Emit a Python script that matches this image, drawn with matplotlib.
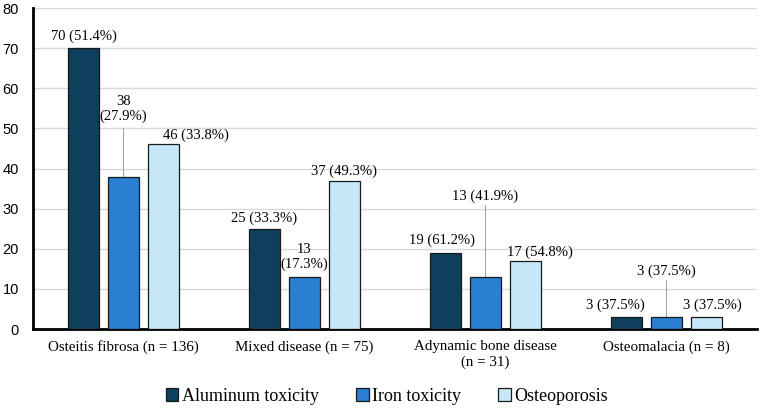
import matplotlib.pyplot as plt
import numpy as np

plt.rcParams['font.family'] = ['Liberation Serif', 'DejaVu Serif']

categories = ["Osteitis fibrosa (n = 136)", "Mixed disease (n = 75)",
              "Adynamic bone disease\n(n = 31)", "Osteomalacia (n = 8)"]
series = ["Aluminum toxicity", "Iron toxicity", "Osteoporosis"]
aluminum = [70, 25, 19, 3]
iron = [38, 13, 13, 3]
osteo = [46, 37, 17, 3]
aluminum_pct = [51.4, 33.3, 61.2, 37.5]
iron_pct = [27.9, 17.3, 41.9, 37.5]
osteo_pct = [33.8, 49.3, 54.8, 37.5]

colors = ["#0e3f5c", "#2a7fd3", "#c6e7f8"]

# label placement (x shift in category units, label centre y, two-line?, leader line)
label_dx = [[0, 0, -0.02, -0.06], [0, 0, 0, 0], [0.18, 0, 0.08, 0.03]]
label_y = [[73.0, 27.7, 22.2, 6.0], [54.8, 17.9, 33.1, 14.5], [48.3, 39.4, 19.2, 6.0]]
two_line = [[False] * 4, [True, True, False, False], [False] * 4]
leader = [[False] * 4, [True, False, True, True], [False] * 4]

fig = plt.figure(figsize=(7.6, 4.11), dpi=100)
ax = fig.add_axes([0.0434, 0.1995, 0.9526, 0.781])

x = np.arange(len(categories))
w = 0.171
step = 0.221
vals = [aluminum, iron, osteo]
pcts = [aluminum_pct, iron_pct, osteo_pct]
for i, (v, p) in enumerate(zip(vals, pcts)):
    xs = x + (i - 1) * step
    ax.bar(xs, v, w, color=colors[i], edgecolor="#1a1a1a", linewidth=0.9,
           label=series[i], zorder=3)
    for j in range(len(categories)):
        sep = "\n" if two_line[i][j] else " "
        txt = f"{v[j]}{sep}({p[j]}%)"
        tx = xs[j] + label_dx[i][j]
        ty = label_y[i][j]
        ax.text(tx, ty, txt, ha="center", va="center", fontsize=10.5,
                linespacing=1.15, zorder=4)
        if leader[i][j]:
            top = ty - (4.7 if two_line[i][j] else 2.3)
            ax.plot([xs[j], xs[j]], [top, v[j]], color="#a6a6a6", lw=0.8, zorder=2)

ax.set_xlim(-0.5, 3.5)
ax.set_ylim(0, 80)
ax.set_yticks(range(0, 81, 10))
ax.set_xticks(x)
ax.set_xticklabels(categories, fontsize=10.8, linespacing=1.2)
for t in ax.get_yticklabels():
    t.set_family(['Liberation Sans', 'DejaVu Sans'])
    t.set_fontsize(10.5)
ax.tick_params(axis="both", length=0)
ax.tick_params(axis="x", pad=8)
ax.tick_params(axis="y", pad=10)
ax.grid(axis="y", color="#d9d9d9", lw=1, zorder=0)
for s in ["top", "right"]:
    ax.spines[s].set_visible(False)
ax.spines["left"].set_linewidth(2)
ax.spines["bottom"].set_linewidth(2)
ax.spines["left"].set_color("black")
ax.spines["bottom"].set_color("black")

ax.legend(loc="center", bbox_to_anchor=(0.489, -0.209), ncol=3, frameon=False,
          fontsize=13, handlelength=0.7, handleheight=0.7, handletextpad=0.2,
          columnspacing=2.05, borderaxespad=0, borderpad=0)

fig.savefig("out.png", dpi=100)
